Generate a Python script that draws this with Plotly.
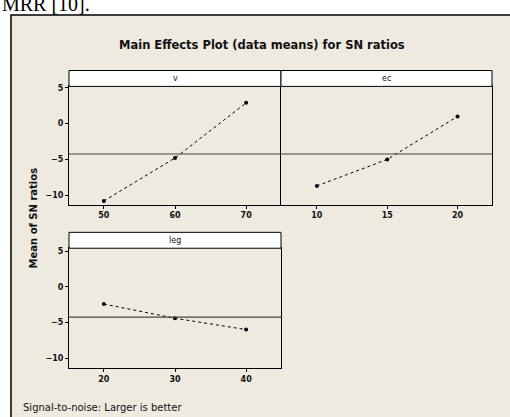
import plotly.graph_objects as go

# Data
v_levels = [50, 60, 70]
v_sn = [-10.8, -4.8, 2.9]
ec_levels = [10, 15, 20]
ec_sn = [-8.7, -5.0, 1.0]
leg_levels = [20, 30, 40]
leg_sn = [-2.4, -4.4, -6.0]
panel_names = ["v", "ec", "leg"]
y_ticks = [-10, -5, 0, 5]

W, H = 510, 417
grand_mean = sum(v_sn + ec_sn + leg_sn) / 9.0

def px(x):
    return x / W

def py(y):
    return 1 - y / H

FONT = "DejaVu Sans"
BG = "#EEEAE0"

fig = go.Figure()
line_style = dict(color="black", width=1, dash="dot")
marker_style = dict(color="black", size=4, symbol="circle")
for xs, ys, xa, ya in [(v_levels, v_sn, "x", "y"), (ec_levels, ec_sn, "x2", "y2"), (leg_levels, leg_sn, "x3", "y3")]:
    fig.add_trace(go.Scatter(x=xs, y=ys, xaxis=xa, yaxis=ya, mode="lines+markers",
                             line=line_style, marker=marker_style, showlegend=False,
                             hoverinfo="skip"))

tickfont = dict(family=FONT, size=8, color="#111", weight="bold")
axis_common = dict(showline=True, linecolor="black", linewidth=1,
                   ticks="outside", ticklen=3, tickcolor="black", showgrid=False,
                   zeroline=False, tickfont=tickfont)

top_y = [py(203), py(84)]
bot_y = [py(368), py(247)]
fig.update_layout(
    width=W, height=H, margin=dict(l=0, r=0, t=0, b=0),
    paper_bgcolor="white", plot_bgcolor="white",
    xaxis=dict(domain=[px(69), px(281)], range=[45.1, 74.9], tickvals=v_levels, anchor="y", mirror=True, **axis_common),
    yaxis=dict(domain=top_y, range=[-11.3, 5.2], tickvals=y_ticks, anchor="x", mirror=False, **axis_common),
    xaxis2=dict(domain=[px(281), px(492)], range=[7.45, 22.45], tickvals=ec_levels, anchor="y2", mirror=True, **axis_common),
    yaxis2=dict(domain=top_y, range=[-11.3, 5.2], tickvals=y_ticks, showticklabels=False, anchor="x2", mirror=True,
                **{k: v for k, v in axis_common.items() if k != "ticks"}, ticks=""),
    xaxis3=dict(domain=[px(69), px(281)], range=[15.1, 44.9], tickvals=leg_levels, anchor="y3", mirror=True, **axis_common),
    yaxis3=dict(domain=bot_y, range=[-11.45, 5.45], tickvals=y_ticks, anchor="x3", mirror=True, **axis_common),
)

shapes = []
# beige frame
shapes.append(dict(type="rect", xref="paper", yref="paper", x0=px(11), x1=1.02, y0=-0.02, y1=py(12),
                   fillcolor=BG, line=dict(color="black", width=1.5), layer="below"))
# header strips
for x0, x1, y0, y1 in [(69, 281, 84, 68), (281, 492, 84, 68), (69, 281, 247, 231)]:
    shapes.append(dict(type="rect", xref="paper", yref="paper", x0=px(x0), x1=px(x1), y0=py(y0), y1=py(y1),
                       fillcolor="white", line=dict(color="black", width=1)))
# mean lines
for xr, yr in [("x domain", "y"), ("x2 domain", "y2"), ("x3 domain", "y3")]:
    shapes.append(dict(type="line", xref=xr, yref=yr, x0=0, x1=1, y0=grand_mean, y1=grand_mean,
                       line=dict(color="#444", width=1.2)))
fig.update_layout(shapes=shapes)

ann = []
ann.append(dict(text="MRR [10].", x=0, y=py(14), xref="paper", yref="paper", xanchor="left", yanchor="bottom",
                showarrow=False, font=dict(family="Liberation Serif", size=20, color="black")))
ann.append(dict(text="<b>Main Effects Plot (data means) for SN ratios</b>", x=px(262), y=py(42),
                xref="paper", yref="paper", xanchor="center", yanchor="middle", showarrow=False,
                font=dict(family=FONT, size=11.5, color="#111")))
for name, (x0, x1, yc) in zip(panel_names, [(69, 281, 76), (281, 492, 76), (69, 281, 239)]):
    ann.append(dict(text=name, x=px((x0 + x1) / 2), y=py(yc), xref="paper", yref="paper",
                    xanchor="center", yanchor="middle", showarrow=False,
                    font=dict(family=FONT, size=8, color="#111")))
ann.append(dict(text="<b>Mean of SN ratios</b>", x=px(33), y=py(217), xref="paper", yref="paper",
                xanchor="center", yanchor="middle", textangle=-90, showarrow=False,
                font=dict(family=FONT, size=10, color="#111")))
ann.append(dict(text="Signal-to-noise: Larger is better", x=px(21), y=py(407), xref="paper", yref="paper",
                xanchor="left", yanchor="middle", showarrow=False,
                font=dict(family=FONT, size=10, color="#111")))
fig.update_layout(annotations=ann)

fig.write_html("out.html", config={"displayModeBar": False},
               post_script="document.body.style.margin='0';document.body.style.overflow='hidden';")
